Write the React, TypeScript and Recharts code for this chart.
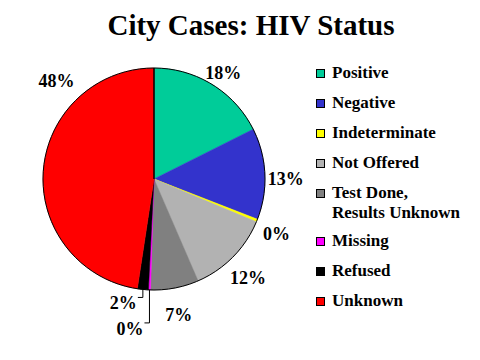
import { Cell, Pie, PieChart } from 'recharts';

const categories = [
  'Positive',
  'Negative',
  'Indeterminate',
  'Not Offered',
  'Test Done, Results Unknown',
  'Missing',
  'Refused',
  'Unknown',
];
const shares = [17.6, 13.3, 0.4, 12.2, 7.0, 0.3, 1.6, 47.6];
const colors = [
  '#00CC99',
  '#3333CC',
  '#FFFF00',
  '#B2B2B2',
  '#808080',
  '#FF00FF',
  '#000000',
  '#FF0000',
];

const data = categories.map((name, i) => ({ name, value: shares[i] }));

const RADIAN = Math.PI / 180;
const FONT = 'Liberation Serif';

// tiny slices at the bottom get an elbow leader, the big one sits top-left
const labelTweaks: Record<string, { drop?: number; angle?: number }> = {
  Missing: { drop: 33 },
  Refused: { drop: 8 },
  Unknown: { angle: 135 },
};

const renderLabel = (props: any) => {
  const { cx, cy, midAngle, outerRadius, percent, name } = props;
  const text = `${Math.round(percent * 100)}%`;
  const tweak = labelTweaks[name] ?? {};

  if (tweak.drop) {
    const x0 = cx + outerRadius * Math.cos(-midAngle * RADIAN);
    const y0 = cy + outerRadius * Math.sin(-midAngle * RADIAN);
    const y1 = y0 + tweak.drop;
    const x1 = x0 - 5;
    return (
      <g>
        <polyline
          points={`${x0},${y0} ${x0},${y1} ${x1},${y1}`}
          fill="none"
          stroke="#000"
          strokeWidth={1}
        />
        <text
          x={x1 - 1}
          y={y1 + 6}
          textAnchor="end"
          dominantBaseline="central"
          fontFamily={FONT}
          fontWeight="bold"
          fontSize={18}
          fill="#000"
        >
          {text}
        </text>
      </g>
    );
  }

  const angle = tweak.angle ?? midAngle;
  const r = outerRadius + (tweak.angle ? 27 : 21);
  const x = cx + r * Math.cos(-angle * RADIAN);
  const y = cy + r * Math.sin(-angle * RADIAN) + (tweak.angle ? 0 : 6);
  return (
    <text
      x={x}
      y={y}
      textAnchor="middle"
      dominantBaseline="central"
      fontFamily={FONT}
      fontWeight="bold"
      fontSize={18}
      fill="#000"
    >
      {text}
    </text>
  );
};

export default function App() {
  return (
    <div
      style={{
        position: 'absolute',
        left: 0,
        top: 0,
        width: 480,
        height: 360,
        background: '#fff',
      }}
    >
      <div
        style={{
          position: 'absolute',
          left: 0,
          top: 11,
          width: 502,
          textAlign: 'center',
          fontFamily: FONT,
          fontSize: 29,
          lineHeight: '29px',
          fontWeight: 'bold',
        }}
      >
        City Cases: HIV Status
      </div>

      <div style={{ position: 'absolute', left: 0, top: 0 }}>
        <PieChart width={480} height={360} margin={{ top: 0, right: 0, bottom: 0, left: 0 }}>
          <Pie
            data={data}
            dataKey="value"
            nameKey="name"
            cx={154}
            cy={179}
            outerRadius={111}
            startAngle={90}
            endAngle={-270}
            stroke="none"
            label={renderLabel}
            labelLine={false}
            isAnimationActive={false}
          >
            {data.map((d, i) => (
              <Cell key={d.name} fill={colors[i]} stroke={colors[i]} strokeWidth={0.5} />
            ))}
          </Pie>
          <Pie
            data={[{ name: 'outline', value: 1 }]}
            dataKey="value"
            cx={154}
            cy={179}
            outerRadius={111}
            startAngle={90}
            endAngle={-270}
            fill="none"
            stroke="#000"
            strokeWidth={1}
            isAnimationActive={false}
          />
        </PieChart>
      </div>

      <div style={{ position: 'absolute', left: 316, top: 63, fontFamily: FONT }}>
        {categories.map((name, i) => {
          const lines = name.split(', ');
          return (
            <div
              key={name}
              style={{
                display: 'flex',
                alignItems: 'flex-start',
                marginBottom: lines.length > 1 ? 8 : 10,
                fontSize: 17,
                fontWeight: 'bold',
                lineHeight: '20px',
              }}
            >
              <span
                style={{
                  width: 7,
                  height: 7,
                  marginTop: 6,
                  marginRight: 7,
                  border: '1px solid #000',
                  background: colors[i],
                  flex: 'none',
                }}
              />
              <span>
                {lines.map((l, j) => (
                  <div key={l}>{j < lines.length - 1 ? `${l},` : l}</div>
                ))}
              </span>
            </div>
          );
        })}
      </div>
    </div>
  );
}
